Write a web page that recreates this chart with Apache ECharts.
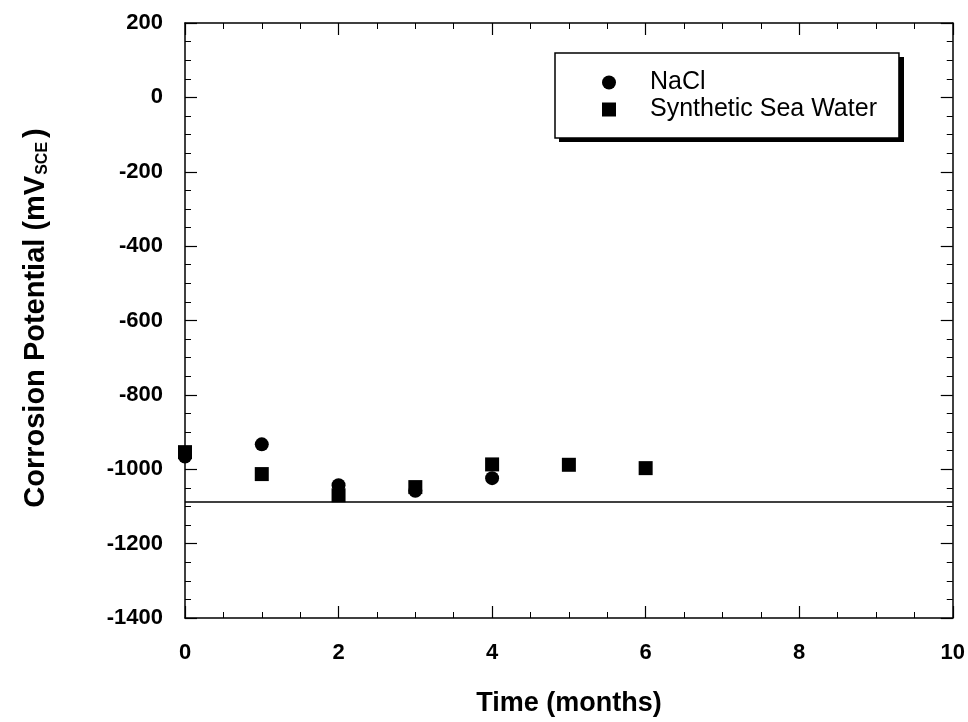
<!DOCTYPE html>
<html>
<head>
<meta charset="utf-8">
<script src="https://cdn.jsdelivr.net/npm/echarts@6/dist/echarts.min.js"></script>
<style>
  html, body { margin: 0; padding: 0; background: #fff; }
  #chart { width: 968px; height: 722px; }
</style>
</head>
<body>
<div id="chart"></div>
<script>
// data
const months = [0, 1, 2, 3, 4, 5, 6];
const naclValues = [-966, -933, -1043, -1058, -1024];
const seaWaterValues = [-954, -1013, -1070, -1048, -987, -988, -997];
const referenceLevel = -1088;

const FONT = '"Liberation Sans", Arial, Helvetica, sans-serif';

const chart = echarts.init(document.getElementById('chart'));

function pairs(xs, ys) {
    return ys.map((v, i) => [xs[i], v]);
}

const tickCommon = {
    axisLine: { show: true, onZero: false, lineStyle: { color: '#000', width: 1.5 } },
    axisTick: { show: true, inside: true, length: 12, lineStyle: { color: '#000', width: 1.2 } },
    minorTick: { show: true, splitNumber: 4, length: 6, lineStyle: { color: '#000', width: 1 } },
    splitLine: { show: false },
    minorSplitLine: { show: false }
};

const labelStyle = {
    color: '#000', fontFamily: FONT, fontWeight: 'bold', fontSize: 22,
    formatter: v => String(v)
};

const option = {
    backgroundColor: '#fff',
    animation: false,
    grid: { left: 185, right: 15, top: 23, bottom: 102 },
    legend: {
        orient: 'vertical',
        left: 555,
        top: 53,
        padding: [17, 22, 16, 47],
        itemGap: 2,
        itemWidth: 14,
        itemHeight: 14,
        backgroundColor: '#fff',
        borderColor: '#000',
        borderWidth: 1.5,
        borderRadius: 0,
        z: 5,
        textStyle: { color: '#000', fontFamily: FONT, fontSize: 25, padding: [0, 0, 0, 29] },
        data: ['NaCl', 'Synthetic Sea Water']
    },
    xAxis: [
        Object.assign({
            type: 'value', min: 0, max: 10, interval: 2, position: 'bottom',
            name: 'Time (months)', nameLocation: 'middle', nameGap: 72,
            nameTextStyle: { color: '#000', fontFamily: FONT, fontWeight: 'bold', fontSize: 27 },
            axisLabel: Object.assign({ margin: 24 }, labelStyle)
        }, tickCommon),
        Object.assign({
            type: 'value', min: 0, max: 10, interval: 2, position: 'top',
            axisLabel: { show: false }
        }, tickCommon)
    ],
    yAxis: [
        Object.assign({
            type: 'value', min: -1400, max: 200, interval: 200, position: 'left',
            axisLabel: Object.assign({ margin: 22 }, labelStyle)
        }, tickCommon),
        Object.assign({
            type: 'value', min: -1400, max: 200, interval: 200, position: 'right',
            axisLabel: { show: false }
        }, tickCommon)
    ],
    graphic: [
        {
            // drop shadow behind the legend box
            type: 'rect',
            z: 1,
            shape: { x: 559, y: 57, width: 345, height: 85 },
            style: { fill: '#000' }
        },
        {
            type: 'text',
            x: 36,
            y: 318,
            rotation: Math.PI / 2,
            style: {
                text: 'Corrosion Potential (mV{sub|SCE})',
                align: 'center',
                verticalAlign: 'middle',
                fill: '#000',
                font: 'bold 29px ' + FONT,
                rich: {
                    sub: {
                        fontFamily: FONT, fontWeight: 'bold', fontSize: 16,
                        fill: '#000', verticalAlign: 'bottom', lineHeight: 14,
                        padding: [0, 4, 0, 1]
                    }
                }
            }
        }
    ],
    series: [
        {
            name: 'NaCl',
            type: 'scatter',
            symbol: 'circle',
            symbolSize: 14,
            itemStyle: { color: '#000', opacity: 1 },
            data: pairs(months, naclValues)
        },
        {
            name: 'Synthetic Sea Water',
            type: 'scatter',
            symbol: 'rect',
            symbolSize: 14,
            itemStyle: { color: '#000', opacity: 1 },
            data: pairs(months, seaWaterValues),
            markLine: {
                silent: true,
                symbol: 'none',
                label: { show: false },
                lineStyle: { color: '#000', type: 'solid', width: 1.5 },
                data: [{ yAxis: referenceLevel }]
            }
        }
    ]
};

chart.setOption(option);

window.addEventListener('resize', function () {
    chart.resize();
});
</script>
</body>
</html>
